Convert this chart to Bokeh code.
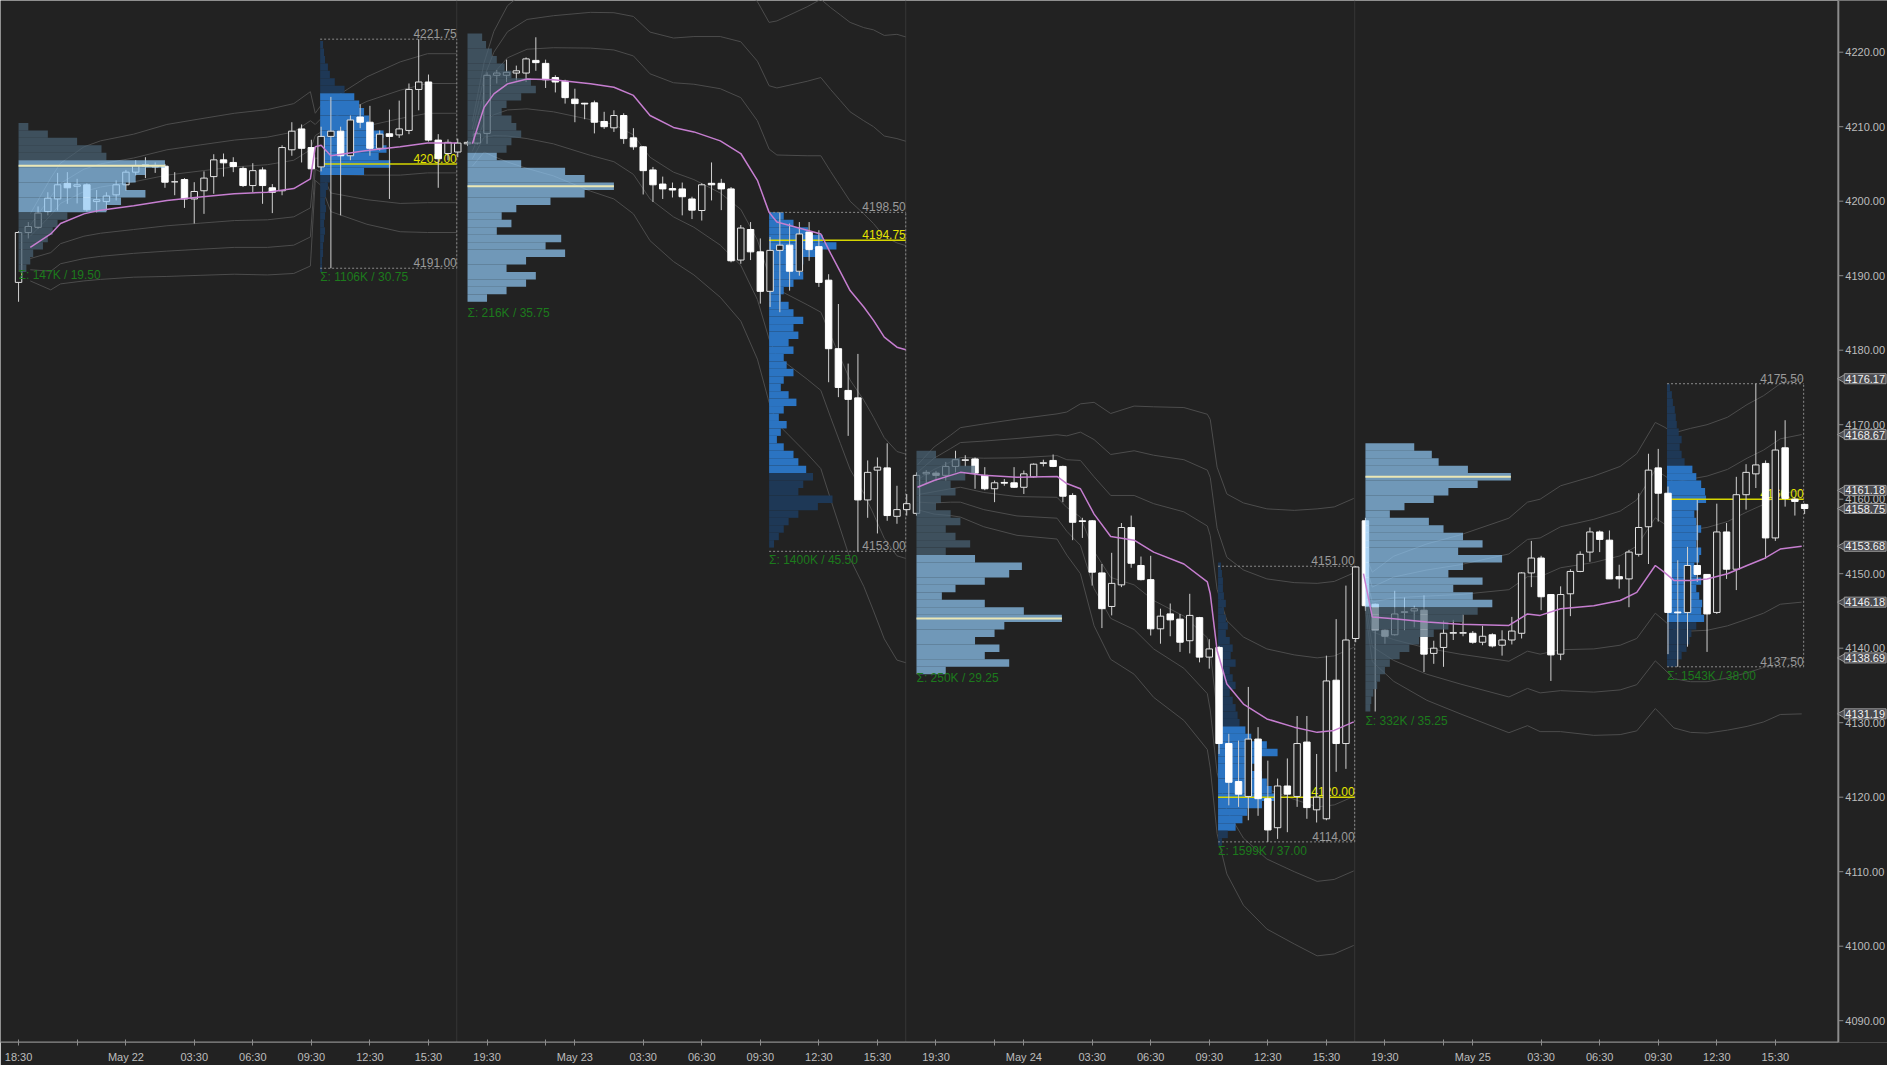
import numpy as np
from bokeh.plotting import figure
from bokeh.models import FixedTicker, Range1d, Span
from bokeh.core.properties import value
from bokeh.embed import file_html
from bokeh.resources import INLINE

# ---------------- data ----------------
BARS = 46  # 30-min bars per session
opens = [
 4189.1, 4195.8, 4196.5, 4198.6, 4200.3, 4202.4, 4202.0, 4202.2, 4199.95, 4199.95, 4200.85, 4202.2, 4203.9, 4204.7, 4204.6, 4204.7,
 4202.6, 4202.9, 4200.3, 4201.4, 4203.3, 4205.55, 4205.2, 4204.4, 4202.1, 4204.2, 4201.8, 4201.4, 4206.9, 4209.7, 4207.2, 4204.6,
 4208.7, 4209.4, 4206.1, 4211.3, 4210.6, 4207.1, 4209.05, 4208.9, 4209.5, 4215.0, 4216.0, 4208.2, 4206.4, 4206.6,
 4207.7, 4207.8, 4209.1, 4216.9, 4216.9, 4217.2, 4217.2, 4218.9, 4218.5, 4216.6, 4216.1, 4213.7, 4213.15, 4213.2, 4210.7, 4209.85,
 4211.5, 4208.5, 4207.3, 4204.2, 4202.3, 4201.7, 4201.65, 4200.3, 4198.75, 4202.4, 4202.4, 4201.65, 4192.1, 4196.2, 4193.2, 4187.9,
 4193.4, 4194.1, 4190.6, 4195.85, 4193.9, 4189.4, 4180.2, 4174.6, 4173.6, 4159.9, 4163.9, 4164.2, 4157.7, 4158.6,
 4158.1, 4163.4, 4163.5, 4163.2, 4164.4, 4165.2, 4165.4, 4163.2, 4161.4, 4162.25, 4162.2, 4161.6, 4163.0, 4164.8, 4165.2, 4164.4,
 4160.5, 4157.1, 4157.1, 4150.1, 4145.6, 4148.5, 4156.2, 4151.1, 4149.2, 4142.6, 4144.6, 4143.9, 4141.0, 4144.1, 4138.8, 4140.1,
 4127.2, 4122.1, 4120.1, 4127.8, 4119.8, 4115.9, 4121.5, 4120.1, 4127.4, 4118.3, 4117.1, 4135.7, 4127.2, 4141.3,
 4157.1, 4145.9, 4142.4, 4141.8, 4144.8, 4145.0, 4145.1, 4139.3, 4140.1, 4142.0, 4142.0, 4142.0, 4140.8, 4141.8, 4140.4, 4141.1,
 4142.0, 4150.1, 4152.1, 4147.2, 4139.2, 4147.3, 4150.3, 4152.9, 4155.6, 4154.5, 4149.6, 4149.3, 4152.6, 4156.3, 4164.2, 4160.8,
 4144.85, 4144.8, 4151.1, 4149.9, 4144.8, 4155.6, 4150.6, 4160.6, 4163.4, 4164.8, 4154.8, 4166.9, 4160.0, 4159.3]
highs = [
 4196.0, 4197.2, 4199.3, 4201.2, 4203.8, 4203.9, 4203.0, 4202.4, 4201.5, 4201.2, 4202.8, 4204.2, 4205.5, 4205.9, 4205.2, 4205.0,
 4203.9, 4203.1, 4202.55, 4204.0, 4206.3, 4206.4, 4205.9, 4204.65, 4205.1, 4204.55, 4202.3, 4207.5, 4210.6, 4210.3, 4208.25, 4210.0,
 4214.0, 4210.0, 4211.5, 4213.0, 4212.8, 4209.5, 4212.3, 4213.5, 4215.8, 4221.75, 4217.0, 4209.0, 4208.3, 4208.4,
 4208.1, 4209.3, 4217.3, 4217.6, 4219.0, 4218.2, 4219.3, 4222.0, 4219.0, 4216.9, 4216.3, 4215.1, 4213.2, 4213.5, 4212.0, 4212.2,
 4211.8, 4209.8, 4207.4, 4204.6, 4203.3, 4202.5, 4202.5, 4200.6, 4202.4, 4205.2, 4203.0, 4201.9, 4196.8, 4197.2, 4195.0, 4195.2,
 4198.5, 4197.0, 4197.2, 4197.2, 4196.1, 4190.2, 4186.2, 4178.2, 4179.5, 4165.2, 4165.6, 4167.5, 4161.8, 4160.7,
 4163.6, 4163.9, 4163.8, 4165.0, 4166.5, 4165.9, 4165.6, 4164.3, 4162.5, 4162.7, 4164.3, 4163.85, 4164.8, 4165.3, 4166.0, 4164.5,
 4160.8, 4157.5, 4157.2, 4151.3, 4152.8, 4156.8, 4157.8, 4152.3, 4152.4, 4145.3, 4146.0, 4144.6, 4147.3, 4144.2, 4141.2, 4140.3,
 4128.5, 4127.6, 4134.8, 4129.4, 4124.9, 4122.5, 4125.2, 4130.9, 4130.9, 4125.8, 4139.0, 4143.9, 4148.4, 4151.0,
 4157.5, 4146.0, 4142.5, 4147.7, 4146.8, 4145.7, 4147.1, 4141.0, 4143.7, 4143.8, 4144.5, 4142.3, 4143.0, 4142.0, 4142.4, 4144.2,
 4150.2, 4154.4, 4152.4, 4147.2, 4148.3, 4150.6, 4153.0, 4156.2, 4155.8, 4155.8, 4151.2, 4153.2, 4160.8, 4166.1, 4166.75, 4161.7,
 4151.8, 4153.6, 4159.9, 4149.9, 4159.4, 4156.8, 4163.0, 4164.7, 4175.5, 4165.2, 4169.2, 4170.6, 4160.3, 4159.4]
lows = [
 4186.5, 4195.0, 4196.3, 4198.1, 4198.75, 4199.65, 4199.7, 4198.6, 4198.5, 4198.75, 4200.1, 4201.4, 4203.45, 4203.1, 4203.8, 4201.8,
 4200.8, 4199.1, 4197.0, 4198.3, 4201.0, 4203.3, 4203.9, 4201.9, 4201.2, 4199.65, 4198.4, 4200.8, 4206.1, 4205.2, 4203.9, 4204.0,
 4191.0, 4198.1, 4205.5, 4209.8, 4206.1, 4206.8, 4200.3, 4208.5, 4209.0, 4212.2, 4208.0, 4201.8, 4205.5, 4205.9,
 4207.4, 4207.6, 4207.7, 4215.8, 4216.0, 4216.2, 4216.0, 4217.5, 4215.2, 4214.6, 4213.1, 4210.6, 4211.0, 4209.1, 4209.7, 4209.3,
 4207.7, 4206.9, 4200.9, 4199.9, 4200.3, 4200.5, 4198.1, 4197.6, 4197.4, 4200.1, 4198.8, 4191.8, 4191.6, 4192.1, 4186.25, 4185.8,
 4185.1, 4188.0, 4190.0, 4192.0, 4188.5, 4175.7, 4173.7, 4168.5, 4153.0, 4157.5, 4155.4, 4157.1, 4156.7, 4157.8,
 4157.8, 4162.1, 4162.5, 4162.5, 4163.6, 4164.4, 4161.4, 4161.2, 4159.6, 4161.8, 4161.5, 4160.7, 4162.9, 4164.4, 4164.3, 4159.6,
 4154.5, 4154.8, 4148.4, 4142.7, 4144.4, 4148.2, 4150.8, 4149.1, 4141.7, 4140.6, 4141.6, 4139.5, 4139.3, 4138.1, 4137.25, 4125.8,
 4118.9, 4118.7, 4116.9, 4117.5, 4114.0, 4114.4, 4115.3, 4118.7, 4117.1, 4116.6, 4116.9, 4123.4, 4123.8, 4140.8,
 4145.0, 4131.5, 4140.6, 4141.7, 4142.4, 4142.8, 4136.8, 4137.9, 4137.5, 4141.1, 4141.6, 4140.6, 4140.4, 4140.1, 4139.0, 4140.5,
 4141.3, 4148.2, 4145.1, 4135.6, 4138.4, 4144.3, 4150.2, 4151.6, 4152.9, 4149.3, 4148.0, 4145.5, 4152.3, 4151.3, 4157.0, 4139.2,
 4137.5, 4140.2, 4148.9, 4139.5, 4144.6, 4149.3, 4147.8, 4158.6, 4161.5, 4152.0, 4154.4, 4159.0, 4157.8, 4158.0]
closes = [
 4195.8, 4196.6, 4198.4, 4200.4, 4202.2, 4201.8, 4202.2, 4198.85, 4200.2, 4200.7, 4202.2, 4203.9, 4204.8, 4204.9, 4204.8, 4202.55,
 4202.6, 4200.3, 4201.3, 4203.1, 4205.55, 4205.15, 4204.65, 4202.1, 4204.1, 4202.1, 4201.2, 4207.2, 4209.4, 4207.1, 4204.35, 4208.7,
 4209.4, 4206.1, 4210.9, 4210.6, 4207.1, 4209.0, 4208.7, 4209.7, 4215.0, 4216.0, 4208.2, 4205.7, 4207.9, 4207.8,
 4207.9, 4209.05, 4216.9, 4217.2, 4217.3, 4217.5, 4219.1, 4218.6, 4216.3, 4216.0, 4213.9, 4213.1, 4213.05, 4210.6, 4210.0, 4211.5,
 4208.4, 4207.3, 4204.1, 4202.2, 4201.65, 4201.5, 4200.6, 4198.8, 4202.2, 4202.2, 4201.65, 4192.0, 4196.4, 4193.2, 4187.9, 4193.4,
 4194.1, 4190.6, 4195.6, 4193.5, 4189.1, 4180.2, 4175.0, 4173.4, 4159.9, 4163.6, 4164.3, 4157.8, 4158.6, 4159.4,
 4163.2, 4163.6, 4163.2, 4164.4, 4165.3, 4165.3, 4163.5, 4161.4, 4162.2, 4162.15, 4161.6, 4163.4, 4164.7, 4164.9, 4164.4, 4160.4,
 4156.9, 4157.0, 4150.2, 4145.3, 4148.7, 4156.2, 4151.4, 4149.2, 4142.6, 4144.3, 4143.8, 4140.8, 4144.4, 4138.8, 4139.9, 4127.2,
 4122.0, 4120.4, 4127.8, 4119.8, 4115.6, 4121.5, 4120.4, 4127.2, 4118.6, 4120.0, 4135.6, 4127.2, 4141.1, 4150.9,
 4145.7, 4142.4, 4141.6, 4144.6, 4144.9, 4145.3, 4139.2, 4140.0, 4142.0, 4142.1, 4142.1, 4140.8, 4141.6, 4140.3, 4141.1, 4142.3,
 4150.1, 4152.1, 4146.9, 4139.1, 4147.2, 4150.3, 4152.6, 4155.6, 4154.6, 4149.3, 4149.3, 4152.9, 4156.2, 4163.9, 4160.8, 4144.8,
 4144.75, 4151.1, 4149.9, 4144.6, 4155.6, 4150.6, 4160.6, 4163.6, 4164.6, 4154.8, 4166.6, 4160.1, 4159.7, 4158.75]

# x-axis tick labels per session (bar offset within session -> text)
session_dates = ["May 22", "May 23", "May 24", "May 25"]
tick_offsets = [2, 8, 11, 18, 24, 30, 36, 42]
tick_texts = ["19:30", "", None, "03:30", "06:30", "09:30", "12:30", "15:30"]
first_tick_offsets = [0, 6]
first_tick_texts = ["18:30", ""]
y_ticks = [4090, 4100, 4110, 4120, 4130, 4140, 4150, 4160, 4170, 4180, 4190, 4200, 4210, 4220]

# VWAP (bar index, price) and st.dev per session as read
vw_x = [
 [1.2, 3.3, 4.3, 6.7, 8.4, 11.8, 15.2, 18.6, 22.1, 25.5, 28.2, 29.9, 30.4, 31.0, 32.0, 35.7, 39.1, 41.9, 44.9],
 [46.5, 47.7, 48.7, 50.1, 52.1, 54.8, 58.6, 61.0, 63.0, 64.7, 67.1, 69.2, 71.9, 74.0, 75.7, 76.9, 77.7, 80.8, 82.2, 83.2, 84.2, 85.2, 86.6, 87.6, 88.7, 90.0, 90.9],
 [92.1, 93.8, 95.5, 96.5, 98.9, 102.3, 106.4, 107.4, 108.8, 110.2, 111.9, 114.3, 116.3, 119.4, 121.8, 122.1, 122.8, 123.8, 125.5, 127.9, 130.7, 133.05, 134.8, 136.8],
 [137.8, 138.7, 140.9, 144.3, 147.7, 152.7, 154.6, 155.9, 158.0, 161.4, 164.1, 165.8, 167.7, 168.6, 169.6, 171.3, 173.0, 175.1, 177.1, 178.8, 180.5, 182.7]]
vw_y = [
 [4193.8, 4195.6, 4197.0, 4198.3, 4198.8, 4199.4, 4200.1, 4200.55, 4201.0, 4201.2, 4201.7, 4203.0, 4207.3, 4207.5, 4206.1, 4206.8, 4207.3, 4207.8, 4207.8],
 [4207.7, 4212.6, 4214.4, 4215.75, 4216.4, 4216.3, 4215.75, 4215.3, 4214.2, 4211.5, 4209.9, 4209.3, 4208.1, 4206.4, 4202.8, 4198.5, 4197.2, 4196.1, 4195.6, 4193.0, 4190.5, 4188.0, 4185.8, 4184.0, 4181.75, 4180.4, 4180.05],
 [4161.6, 4162.5, 4163.2, 4163.6, 4163.2, 4162.95, 4163.05, 4162.1, 4161.4, 4158.0, 4155.0, 4154.5, 4152.9, 4151.3, 4148.9, 4147.3, 4139.7, 4135.2, 4132.5, 4130.5, 4129.4, 4128.7, 4128.96, 4130.1],
 [4150.0, 4144.2, 4143.95, 4143.5, 4143.2, 4143.05, 4144.6, 4144.4, 4145.3, 4145.7, 4146.4, 4147.5, 4151.1, 4150.2, 4149.1, 4149.1, 4149.3, 4150.0, 4151.1, 4152.0, 4153.3, 4153.68]]
vw_sd = [
 [1.5, 2.5, 2.7, 3.0, 3.1, 3.2, 3.4, 3.5, 3.6, 3.7, 3.8, 3.9, 1.5, 1.8, 2.5, 3.3, 3.8, 4.0, 4.0],
 [1.0, 2.0, 2.8, 3.5, 4.0, 4.3, 4.8, 5.0, 5.3, 5.6, 6.0, 6.4, 7.0, 7.5, 8.0, 8.5, 9.0, 10.0, 10.5, 11.0, 11.5, 12.0, 12.5, 13.0, 13.5, 14.0, 14.0],
 [1.0, 1.5, 1.8, 2.0, 2.3, 2.6, 2.8, 3.2, 3.8, 5.0, 5.5, 6.0, 6.5, 7.0, 7.5, 7.8, 8.2, 8.5, 9.0, 9.4, 9.7, 10.0, 10.0, 10.0],
 [1.0, 2.0, 2.8, 3.5, 4.0, 4.8, 5.0, 5.2, 5.5, 5.8, 6.0, 6.2, 6.4, 6.5, 6.6, 6.8, 6.9, 7.0, 7.2, 7.3, 7.4, 7.5]]

# session ranges, POCs, volumes
eth_hi = [4210.75, 4222.00, 4166.50, 4166.75]
eth_lo = [4191.25, 4186.25, 4137.25, 4131.50]
rth_hi = [4221.75, 4198.50, 4151.00, 4175.50]
rth_lo = [4191.00, 4153.00, 4114.00, 4137.50]
eth_poc = [4204.75, 4202.00, 4144.00, 4163.00]
rth_poc = [4205.00, 4194.75, 4120.00, 4160.00]
eth_vol_k = [147, 216, 250, 332]
rth_vol_k = [1106, 1400, 1599, 1543]

# volume profiles (1-point bins, listed from top price downward, relative volume)
eth_top = [4210, 4222, 4166, 4167]
eth_prof = [
 [1.0, 3.0, 6.0, 8.5, 9.0, 15.0, 13.0, 12.0, 11.0, 13.0, 10.5, 9.0, 5.0, 4.0, 3.5, 3.0, 2.5, 1.5, 1.2, 0.8],
 [1.5, 1.9, 2.5, 3.0, 3.8, 4.5, 6.5, 7.0, 5.5, 4.0, 3.5, 4.5, 5.0, 5.5, 4.5, 4.0, 3.0, 5.5, 10.0, 12.0, 15.0, 12.0,
  8.5, 5.0, 3.5, 4.5, 3.0, 9.6, 8.0, 10.0, 6.0, 4.0, 7.0, 6.0, 4.0, 2.0],
 [2.0, 4.5, 6.0, 5.0, 3.5, 4.0, 2.5, 2.0, 3.5, 4.5, 3.0, 4.0, 5.5, 3.0, 6.0, 10.8, 9.5, 7.0, 4.0, 2.6, 7.0, 11.0,
  14.9, 9.0, 8.0, 6.0, 8.5, 7.0, 9.5, 3.0],
 [5.0, 6.8, 7.5, 10.5, 14.9, 11.5, 8.5, 7.0, 4.0, 2.5, 6.5, 8.0, 10.0, 12.0, 9.5, 14.0, 10.0, 8.5, 12.0, 9.0, 11.0,
  13.0, 11.5, 10.0, 8.5, 7.0, 5.5, 4.5, 3.5, 2.5, 2.0, 1.5, 1.2, 0.8, 0.6, 0.5]]
eth_va = [(4199, 4205), (4187, 4206), (4137, 4152), (4146, 4167)]
rth_top = [4221, 4198, 4151, 4175]
rth_prof = [
 [0.3, 0.4, 0.5, 0.8, 1.0, 1.5, 2.5, 3.5, 4.0, 4.5, 5.0, 5.5, 6.5, 6.0, 6.8, 6.0, 7.2, 4.5, 1.0, 0.8, 0.6, 0.5,
  0.6, 0.5, 0.4, 0.5, 0.4, 0.3, 0.3, 0.2, 0.2],
 [1.5, 2.5, 4.0, 5.5, 6.9, 5.0, 3.5, 3.0, 3.5, 2.5, 1.5, 1.2, 2.0, 2.5, 3.5, 2.5, 3.0, 2.0, 2.5, 1.5, 1.8, 2.5,
  1.5, 1.2, 2.0, 2.8, 1.5, 1.0, 1.8, 1.2, 0.8, 1.5, 2.5, 3.0, 3.8, 4.5, 3.5, 3.0, 6.5, 5.0, 3.0, 2.0, 1.5, 1.0, 0.5],
 [0.3, 0.4, 0.5, 0.5, 0.6, 0.8, 0.6, 0.8, 1.0, 0.8, 1.2, 1.5, 1.3, 1.8, 1.2, 1.5, 1.8, 1.2, 1.5, 1.8, 2.0, 2.2,
  2.8, 3.4, 5.0, 6.1, 4.0, 3.5, 4.5, 5.0, 5.5, 6.0, 4.5, 3.0, 2.5, 1.8, 1.0, 0.4],
 [0.3, 0.5, 0.6, 0.8, 0.9, 1.0, 1.2, 1.5, 1.3, 1.5, 1.8, 2.6, 3.0, 3.5, 3.9, 4.0, 3.2, 2.8, 3.0, 3.5, 3.2, 3.0,
  3.5, 3.3, 2.8, 3.0, 3.5, 3.0, 3.3, 3.6, 3.5, 3.8, 3.0, 2.5, 2.3, 2.0, 1.5, 1.0]]
rth_va = [(4204, 4214), (4164, 4198), (4116, 4129), (4144, 4164)]

# current values shown as tags on the price scale
tag_values = [4176.17, 4168.67, 4161.18, 4158.75, 4153.68, 4146.18, 4138.69, 4131.19]

# ---------------- styling constants ----------------
BG = "#222222"
FONT = "Liberation Sans"
RTH_FIRST = 31          # first regular-hours bar in a session
PROF_SCALE = 1.0        # bar-widths per unit of relative volume
BODY_W = 0.66
X_LO, X_HI = -1.85, 191.49     # visible bar-index range (frame = whole window width)
Y_LO, Y_HI = 4087.07, 4226.94
SCALE_X = 186.45               # where the price scale sits (bar-index units)
PX = (X_HI - X_LO) / 1887.0    # one pixel in bar-index units

p = figure(frame_width=1887, frame_height=1042,
           x_range=Range1d(X_LO, X_HI), y_range=Range1d(Y_LO, Y_HI),
           output_backend="svg", toolbar_location=None, y_axis_location=None,
           background_fill_color=BG, border_fill_color=BG, outline_line_color=None,
           min_border_left=0, min_border_top=0, min_border_right=0, min_border_bottom=0)
p.grid.visible = False

# time axis
xt, xlab = [], {}
for t, s in zip(first_tick_offsets, first_tick_texts):
    xt.append(t); xlab[t] = s
for k, d in enumerate(session_dates):
    for off, s in zip(tick_offsets, tick_texts):
        if k == 0 and off < 11:
            continue
        t = k * BARS + off
        xt.append(t); xlab[t] = d if s is None else s
p.xaxis.ticker = FixedTicker(ticks=xt)
p.xaxis.major_label_overrides = xlab
ax = p.xaxis[0]
ax.axis_line_color = None
ax.major_tick_line_color = "#8c8c8c"
ax.minor_tick_line_color = None
ax.major_label_text_color = "#bdbdbd"
ax.major_label_text_font = FONT
ax.major_label_text_font_size = "11px"
ax.major_tick_in = 3
ax.major_tick_out = 3
ax.major_label_standoff = 5

# session dividers
for k in range(1, 4):
    p.add_layout(Span(location=k * BARS - 1.1, dimension="height", line_color="#363636",
                      line_width=1, level="underlay"))

# deviation bands and VWAP
for k in range(4):
    x = np.array(vw_x[k]); y = np.array(vw_y[k]); sd = np.array(vw_sd[k])
    xs, ys = [], []
    for m in (1, 2, 3):
        xs += [x, x]; ys += [y + m * sd, y - m * sd]
    p.multi_line(xs, ys, line_color="#4c4c4c", line_width=1)

o = np.array(opens); h = np.array(highs); l = np.array(lows); c = np.array(closes)
idx = np.arange(len(o))

# RTH profiles (under candles)
for k in range(4):
    x0 = k * BARS + RTH_FIRST - 0.1
    vol = np.array(rth_prof[k])
    pr = rth_top[k] - np.arange(len(vol))
    col = ["#2b74c2" if rth_va[k][0] <= v <= rth_va[k][1] else "#1e3856" for v in pr]
    p.hbar(y=pr, left=x0, right=x0 + vol * PROF_SCALE, height=1.0, fill_color=col, line_color=None)

# RTH range box, POC lines and labels
for k in range(4):
    x0 = k * BARS + RTH_FIRST - 0.1
    x1 = k * BARS + BARS - 1.1
    p.segment([x0, x0, x1], [rth_hi[k], rth_lo[k], rth_lo[k]],
              [x1, x1, x1], [rth_hi[k], rth_lo[k], rth_hi[k]],
              line_color="#8a8a8a", line_width=1, line_dash="2 2")
    p.segment([x0], [rth_poc[k]], [x1], [rth_poc[k]], line_color="#d6d600", line_width=1.5)
    p.text([x1, x1], [rth_hi[k], rth_lo[k]], text=[f"{rth_hi[k]:.2f}", f"{rth_lo[k]:.2f}"],
           text_align="right", text_baseline="bottom", y_offset=-1, text_color="#9a9a9a",
           text_font=value(FONT), text_font_size="12px")
    p.text([x1], [rth_poc[k]], text=[f"{rth_poc[k]:.2f}"], text_align="right", text_baseline="bottom",
           y_offset=-1, text_color="#e4e400", text_font=value(FONT), text_font_size="12px")

# candles
p.segment(idx, h, idx, l, line_color="#d0d0d0", line_width=1)
up = c >= o
p.vbar(x=idx[up], bottom=o[up], top=c[up], width=BODY_W, fill_color=BG, line_color="#e4e4e4", line_width=1)
p.vbar(x=idx[~up], bottom=c[~up], top=o[~up], width=BODY_W, fill_color="#ffffff", line_color="#ffffff", line_width=1)

# ETH profiles (translucent, over candles)
for k in range(4):
    x0 = k * BARS
    vol = np.array(eth_prof[k])
    pr = eth_top[k] - np.arange(len(vol))
    col = ["#8fc6f2" if eth_va[k][0] <= v <= eth_va[k][1] else "#4a6275" for v in pr]
    p.hbar(y=pr, left=x0, right=x0 + vol * PROF_SCALE, height=1.0, fill_color=col,
           fill_alpha=0.72, line_color=None)
    p.segment([x0], [eth_poc[k]], [x0 + vol.max() * PROF_SCALE], [eth_poc[k]],
              line_color="#ebe7b5", line_width=2)

# VWAP lines
for k in range(4):
    p.line(vw_x[k], vw_y[k], line_color="#c67ed0", line_width=1.5)

# sigma labels
for k in range(4):
    for x0, lo, hi, vk in ((k * BARS, eth_lo[k], eth_hi[k], eth_vol_k[k]),
                           (k * BARS + RTH_FIRST - 0.1, rth_lo[k], rth_hi[k], rth_vol_k[k])):
        p.text([x0], [lo], text=[f"\u03a3: {vk}K / {hi - lo:.2f}"], text_align="left",
               text_baseline="top", y_offset=2, text_color="#1c7a1c",
               text_font=value(FONT), text_font_size="12px")

# price scale (drawn on the right edge of the chart area)
p.rect(x=[(SCALE_X + X_HI) / 2], y=[(Y_LO + Y_HI) / 2], width=[X_HI - SCALE_X], height=[Y_HI - Y_LO],
       fill_color=BG, line_color=None)
p.segment([X_LO, SCALE_X], [Y_LO, Y_LO], [SCALE_X, SCALE_X], [Y_LO, Y_HI],
          line_color="#8c8c8c", line_width=2)
p.segment([SCALE_X] * len(y_ticks), y_ticks, [SCALE_X + 5 * PX] * len(y_ticks), y_ticks,
          line_color="#8c8c8c", line_width=1)
p.text([SCALE_X + 7 * PX] * len(y_ticks), y_ticks, text=[f"{v:.2f}" for v in y_ticks],
       text_align="left", text_baseline="middle", text_color="#bdbdbd",
       text_font=value(FONT), text_font_size="11px")

# value tags
p.scatter([SCALE_X + 5 * PX] * len(tag_values), tag_values, marker="triangle", angle=np.pi / 2,
          size=10, fill_color="#4a4a4f", line_color="#9a9a9a")
p.text([SCALE_X + 6 * PX] * len(tag_values), tag_values, text=[f"{v:.2f}" for v in tag_values],
       text_align="left", text_baseline="middle", text_color="#f2f2f2",
       text_font=value(FONT), text_font_size="11px",
       background_fill_color="#4a4a4f", border_line_color="#9a9a9a", padding=1)

open("out.html", "w").write(file_html(p, INLINE))
